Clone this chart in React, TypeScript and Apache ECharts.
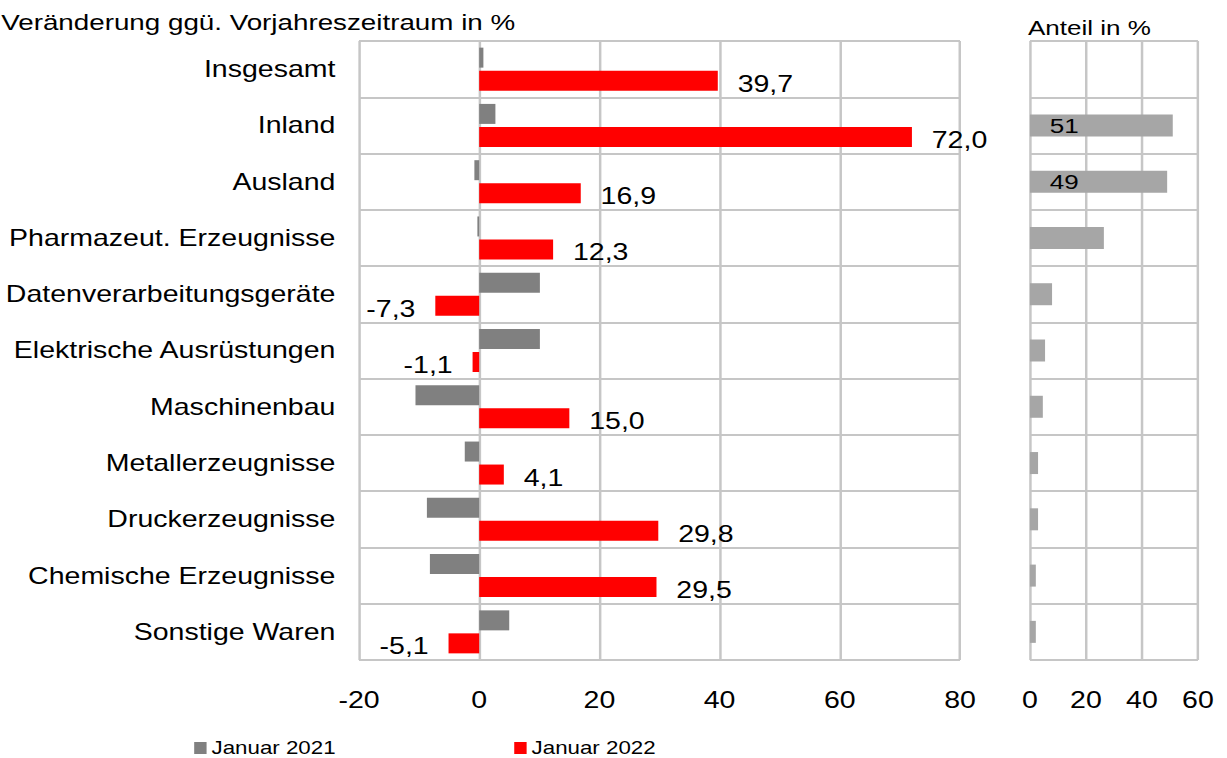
import React, { useEffect, useRef } from "react";
import * as echarts from "echarts";

const categories = [
  "Insgesamt",
  "Inland",
  "Ausland",
  "Pharmazeut. Erzeugnisse",
  "Datenverarbeitungsgeräte",
  "Elektrische Ausrüstungen",
  "Maschinenbau",
  "Metallerzeugnisse",
  "Druckerzeugnisse",
  "Chemische Erzeugnisse",
  "Sonstige Waren",
];
const jan2021 = [0.7, 2.7, -0.8, -0.3, 10.1, 10.1, -10.6, -2.4, -8.7, -8.2, 5.0];
const jan2022 = [39.7, 72.0, 16.9, 12.3, -7.3, -1.1, 15.0, 4.1, 29.8, 29.5, -5.1];
const anteil = [null, 51, 49, 26.4, 7.9, 5.4, 4.6, 2.9, 2.9, 2.1, 2.1];
const anteilLabeled = [false, true, true, false, false, false, false, false, false, false, false];
const leftTicks = { min: -20, max: 80, interval: 20 };
const rightTicks = { min: 0, max: 60, interval: 20 };
const titleText = "Veränderung ggü. Vorjahreszeitraum in %";
const anteilTitle = "Anteil in %";

const S = 1.24;
const W = 990;
const H = 758;
const FONT = "'Liberation Sans', Arial, Helvetica, sans-serif";
const GRID_COLOR = "#c6c6c6";

export default function App() {
  const ref = useRef<HTMLDivElement>(null);
  useEffect(() => {
    if (!ref.current) return;
    const chart = echarts.init(ref.current, null, { renderer: "svg", width: W, height: H });
    const fmt = (v: number) => v.toFixed(1).replace(".", ",");
    const splitLine = { show: true, lineStyle: { color: GRID_COLOR, width: 2 } };
    const legendText = { fontSize: 18, color: "#000", fontFamily: FONT, padding: [0, 0, 0, -1] };
    chart.setOption({
      animation: false,
      textStyle: { fontFamily: FONT },
      graphic: [
        {
          type: "text",
          left: 1,
          top: 11,
          style: { text: titleText, font: `22.4px ${FONT}`, fill: "#000" },
        },
        {
          type: "text",
          left: 829,
          top: 17,
          style: { text: anteilTitle, font: `21px ${FONT}`, fill: "#000" },
        },
      ],
      legend: [
        {
          data: [{ name: "Januar 2021", icon: "rect" }],
          left: 151.6,
          top: 734,
          itemWidth: 10,
          itemHeight: 12,
          itemGap: 4,
          textStyle: legendText,
        },
        {
          data: [{ name: "Januar 2022", icon: "rect" }],
          left: 409.7,
          top: 734,
          itemWidth: 10,
          itemHeight: 12,
          itemGap: 4,
          textStyle: legendText,
        },
      ],
      grid: [
        { left: 289.5, width: 484.7, top: 41, bottom: 98 },
        { left: 830.6, width: 135.5, top: 41, bottom: 98 },
      ],
      xAxis: [
        {
          type: "value",
          gridIndex: 0,
          ...leftTicks,
          splitLine,
          axisLine: { show: false },
          axisTick: { show: false },
          axisLabel: { fontSize: 23, color: "#000", margin: 28, fontFamily: FONT },
        },
        {
          type: "value",
          gridIndex: 1,
          ...rightTicks,
          splitLine,
          axisLine: { show: false },
          axisTick: { show: false },
          axisLabel: { fontSize: 23, color: "#000", margin: 28, fontFamily: FONT },
        },
      ],
      yAxis: [
        {
          type: "category",
          gridIndex: 0,
          data: categories,
          inverse: true,
          splitLine,
          axisLine: { show: false },
          axisTick: { show: false },
          axisLabel: { fontSize: 23, color: "#000", margin: 19, fontFamily: FONT },
        },
        {
          type: "category",
          gridIndex: 1,
          data: categories,
          inverse: true,
          splitLine,
          axisLine: { show: false },
          axisTick: { show: false },
          axisLabel: { show: false },
        },
      ],
      series: [
        {
          name: "Januar 2021",
          type: "bar",
          xAxisIndex: 0,
          yAxisIndex: 0,
          barWidth: 20,
          barGap: "15%",
          itemStyle: { color: "#808080" },
          data: jan2021,
        },
        {
          name: "Januar 2022",
          type: "bar",
          xAxisIndex: 0,
          yAxisIndex: 0,
          barWidth: 20,
          barGap: "15%",
          itemStyle: { color: "#ff0000" },
          data: jan2022.map((v) => ({
            value: v,
            label: {
              show: true,
              position: v >= 0 ? "right" : "left",
              distance: 16,
              offset: [0, 3],
              fontSize: 23,
              color: "#000",
              fontFamily: FONT,
              formatter: () => fmt(v),
            },
          })),
        },
        {
          name: "Anteil",
          type: "bar",
          xAxisIndex: 1,
          yAxisIndex: 1,
          barWidth: 22,
          itemStyle: { color: "#a6a6a6" },
          data: anteil.map((v, i) => ({
            value: v,
            label: {
              show: anteilLabeled[i],
              position: "insideLeft",
              distance: 16,
              fontSize: 21,
              color: "#000",
              fontFamily: FONT,
              formatter: () => String(v),
            },
          })),
        },
      ],
    });
    return () => chart.dispose();
  }, []);
  return (
    <div
      style={{
        position: "fixed",
        left: 0,
        top: 0,
        width: W * S,
        height: H,
        overflow: "hidden",
        background: "#fff",
      }}
    >
      <div
        ref={ref}
        style={{
          width: W,
          height: H,
          transform: `scaleX(${S})`,
          transformOrigin: "0 0",
        }}
      />
    </div>
  );
}
